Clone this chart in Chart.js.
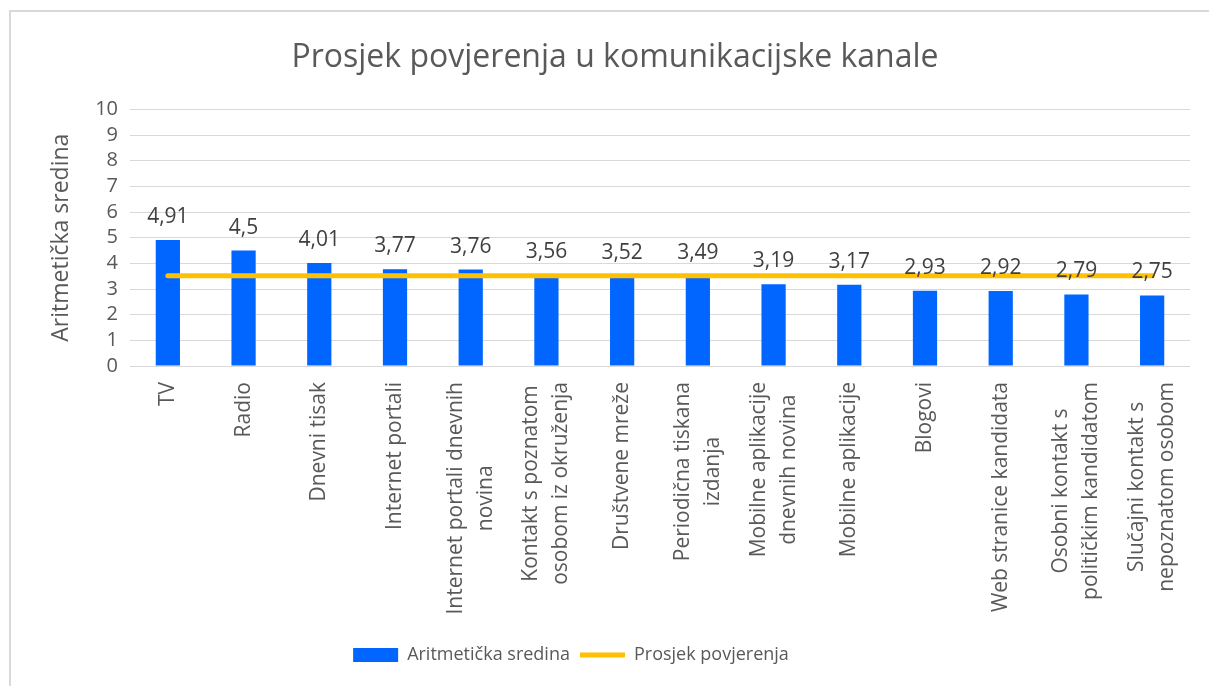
<!DOCTYPE html>
<html>
<head>
<meta charset="utf-8">
<script src="https://cdn.jsdelivr.net/npm/chart.js@4.4.1/dist/chart.umd.min.js"></script>
<style>
  html, body { margin: 0; padding: 0; background: #fff; overflow: hidden; }
  #frame { position: absolute; left: 9px; top: 10px; width: 1300px; height: 800px;
           border-left: 2px solid #d9d9d9; border-top: 2px solid #d9d9d9; }
  #wrap { position: absolute; left: 0; top: 0; width: 1209px; height: 686px; }
</style>
</head>
<body>
<div id="frame"></div>
<div id="wrap"><canvas id="chart"></canvas></div>
<script>
// channel names (multi-line as in the original)
const categories = [
  ['TV'], ['Radio'], ['Dnevni tisak'], ['Internet portali'],
  ['Internet portali dnevnih', 'novina'],
  ['Kontakt s poznatom', 'osobom iz okruženja'],
  ['Društvene mreže'],
  ['Periodična tiskana', 'izdanja'],
  ['Mobilne aplikacije', 'dnevnih novina'],
  ['Mobilne aplikacije'], ['Blogovi'], ['Web stranice kandidata'],
  ['Osobni kontakt s', 'političkim kandidatom'],
  ['Slučajni kontakt s', 'nepoznatom osobom']
];
const meanValues = [4.91, 4.5, 4.01, 3.77, 3.76, 3.56, 3.52, 3.49, 3.19, 3.17, 2.93, 2.92, 2.79, 2.75];
const avgTrust = [3.52, 3.52, 3.52, 3.52, 3.52, 3.52, 3.52, 3.52, 3.52, 3.52, 3.52, 3.52, 3.52, 3.52];
const yTicks = [0, 1, 2, 3, 4, 5, 6, 7, 8, 9, 10];

const FONT = '"Open Sans", "DejaVu Sans", sans-serif';

// value labels above the bars (bar dataset is index 1)
const barLabels = {
  id: 'barLabels',
  afterDatasetsDraw(chart) {
    const ctx = chart.ctx;
    const meta = chart.getDatasetMeta(1);
    ctx.save();
    ctx.font = '21px ' + FONT;
    ctx.fillStyle = '#404040';
    ctx.textAlign = 'center';
    ctx.textBaseline = 'alphabetic';
    meta.data.forEach((bar, i) => {
      const txt = String(meanValues[i]).replace('.', ',');
      ctx.fillText(txt, bar.x, bar.y - 17);
    });
    ctx.restore();
  }
};

// rotated category labels, lines centred on each other
const catLabels = {
  id: 'catLabels',
  afterDraw(chart) {
    const ctx = chart.ctx;
    const xs = chart.scales.x;
    const top = xs.top + 16;
    const lh = 30;
    ctx.save();
    ctx.font = '21px ' + FONT;
    ctx.fillStyle = '#595959';
    ctx.textAlign = 'center';
    ctx.textBaseline = 'middle';
    categories.forEach((lines, i) => {
      const x = xs.getPixelForTick(i);
      const w = Math.max(...lines.map(l => ctx.measureText(l).width));
      ctx.save();
      ctx.translate(x, top);
      ctx.rotate(-Math.PI / 2);
      lines.forEach((l, j) => {
        ctx.fillText(l, -w / 2, (j - (lines.length - 1) / 2) * lh);
      });
      ctx.restore();
    });
    ctx.restore();
  }
};

// title sits a bit right and legend a bit left in the original
const boxShift = {
  id: 'boxShift',
  afterLayout(chart) {
    chart.legend.left -= 24;
    chart.legend.right -= 24;
    chart.titleBlock.left += 20;
    chart.titleBlock.right += 20;
  }
};

new Chart(document.getElementById('chart'), {
  data: {
    labels: categories,
    datasets: [
      {
        type: 'line',
        label: 'Prosjek povjerenja',
        data: avgTrust,
        borderColor: '#FFC000',
        backgroundColor: '#FFC000',
        borderWidth: 5,
        borderCapStyle: 'round',
        pointRadius: 0,
        pointStyle: 'line',
        order: 0
      },
      {
        type: 'bar',
        label: 'Aritmetička sredina',
        data: meanValues,
        backgroundColor: '#0066FF',
        borderWidth: 0,
        categoryPercentage: 1,
        barPercentage: 0.32,
        pointStyle: 'rect',
        order: 1
      }
    ]
  },
  options: {
    responsive: true,
    maintainAspectRatio: false,
    animation: false,
    layout: { padding: { left: 0, right: 19, top: 0, bottom: 12 } },
    plugins: {
      title: {
        display: true,
        text: 'Prosjek povjerenja u komunikacijske kanale',
        color: '#595959',
        font: { family: FONT, size: 32, weight: 'normal' },
        padding: { top: 39, bottom: 32 }
      },
      legend: {
        position: 'bottom',
        reverse: true,
        labels: {
          usePointStyle: true,
          pointStyleWidth: 45,
          boxHeight: 14,
          color: '#595959',
          font: { family: FONT, size: 18 },
          padding: 10
        }
      },
      tooltip: { enabled: false }
    },
    scales: {
      x: {
        grid: { display: false },
        border: { display: false },
        ticks: { display: false },
        afterFit(scale) { scale.height = 270; }
      },
      y: {
        min: 0,
        max: 10,
        afterBuildTicks(scale) { scale.ticks = yTicks.map(v => ({ value: v })); },
        grid: { color: '#d9d9d9', lineWidth: 1, drawTicks: false },
        border: { display: false },
        ticks: {
          color: '#595959',
          font: { family: FONT, size: 20 },
          padding: 12,
          autoSkip: false
        },
        title: {
          display: true,
          text: 'Aritmetička sredina',
          color: '#595959',
          font: { family: FONT, size: 23 },
          padding: { top: 48, bottom: 0 }
        },
        afterFit(scale) { scale.width = 130; }
      }
    }
  },
  plugins: [barLabels, catLabels, boxShift]
});
</script>
</body>
</html>
